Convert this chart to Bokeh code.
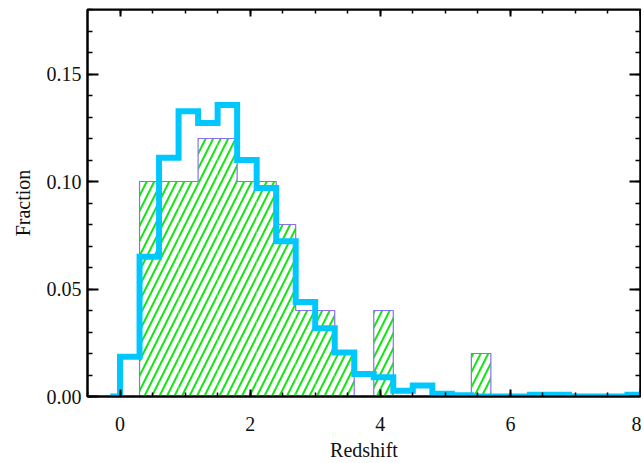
from bokeh.plotting import figure
from bokeh.models import Range1d, FixedTicker, LinearAxis, NumeralTickFormatter, CustomJSTickFormatter
from bokeh.embed import file_html
from bokeh.resources import INLINE

# ---- data -------------------------------------------------------------
# hatched histogram (bin edges of width 0.3)
green_left = [0.0, 0.3, 0.6, 0.9, 1.2, 1.5, 1.8, 2.1, 2.4, 2.7,
              3.0, 3.3, 3.6, 3.9, 4.2, 4.5, 4.8, 5.1, 5.4, 5.7]
green_right = [0.3, 0.6, 0.9, 1.2, 1.5, 1.8, 2.1, 2.4, 2.7, 3.0,
               3.3, 3.6, 3.9, 4.2, 4.5, 4.8, 5.1, 5.4, 5.7, 6.0]
green_frac = [0.00, 0.10, 0.10, 0.10, 0.12, 0.12, 0.10, 0.10, 0.08, 0.04,
              0.04, 0.02, 0.00, 0.04, 0.00, 0.00, 0.00, 0.00, 0.02, 0.00]

# thick cyan step histogram (bin centres)
cyan_z = [-0.15, 0.15, 0.45, 0.75, 1.05, 1.35, 1.65, 1.95, 2.25, 2.55,
          2.85, 3.15, 3.45, 3.75, 4.05, 4.35, 4.65, 4.95, 5.25, 5.55,
          5.85, 6.15, 6.45, 6.75, 7.05, 7.35, 7.65, 7.95, 8.25]
cyan_frac = [0.0, 0.0185, 0.065, 0.111, 0.1327, 0.1272, 0.1356, 0.110, 0.097, 0.0722,
             0.044, 0.0317, 0.0205, 0.0105, 0.009, 0.0027, 0.0051, 0.0013, 0.0006, 0.0,
             0.0, 0.0, 0.0008, 0.0008, 0.0, 0.0, 0.0, 0.0008, 0.0008]

x_major = [0, 2, 4, 6, 8]
x_minor = [-0.5, 0, 0.5, 1, 1.5, 2, 2.5, 3, 3.5, 4, 4.5, 5, 5.5, 6, 6.5, 7, 7.5, 8]
y_major = [0.0, 0.05, 0.10, 0.15]
y_minor = [0.0, 0.01, 0.02, 0.03, 0.04, 0.05, 0.06, 0.07, 0.08, 0.09,
           0.10, 0.11, 0.12, 0.13, 0.14, 0.15, 0.16, 0.17, 0.18]

X_START, X_END = -0.5, 8.0
Y_START, Y_END = 0.0, 0.18

FONT = "Liberation Serif"

# ---- figure -----------------------------------------------------------
p = figure(width=641, height=463,
           x_range=Range1d(X_START, X_END), y_range=Range1d(Y_START, Y_END),
           output_backend="svg", toolbar_location=None,
           min_border_left=87, min_border_top=9, min_border_right=1, min_border_bottom=40,
           x_axis_label="Redshift", y_axis_label="Fraction")
p.grid.visible = False
p.outline_line_color = "black"
p.outline_line_width = 2
p.background_fill_color = "white"
p.border_fill_color = "white"

# hatched histogram fill
p.quad(left=green_left, right=green_right, bottom=0, top=green_frac,
       fill_color=None, line_color=None,
       hatch_pattern="/", hatch_color="#14e614", hatch_weight=2, hatch_scale=15)

# outline of hatched histogram (built from the bin data)
ox, oy = [], []
first = next(i for i, v in enumerate(green_frac) if v > 0)
last = max(i for i, v in enumerate(green_frac) if v > 0)
ox.append(green_left[first]); oy.append(0.0)
for i in range(first, last + 1):
    ox += [green_left[i], green_right[i]]
    oy += [green_frac[i], green_frac[i]]
ox.append(green_right[last]); oy.append(0.0)
p.line(ox, oy, line_color="#8a70f0", line_width=1.2)
p.line([green_left[first], green_right[last]], [0, 0], line_color="#5a40c0", line_width=1.2)

# thick cyan step line
p.step(cyan_z, cyan_frac, mode="center", line_color="#00c8ff", line_width=6,
       line_join="miter")

xt = FixedTicker(ticks=x_major, minor_ticks=x_minor)
yt = FixedTicker(ticks=y_major, minor_ticks=y_minor)
blank = CustomJSTickFormatter(code="return ''")


def style(ax, major_in, minor_in, labels=True):
    ax.axis_line_color = "black"
    ax.axis_line_width = 2
    ax.major_tick_in = major_in
    ax.major_tick_out = 0
    ax.minor_tick_in = minor_in
    ax.minor_tick_out = 0
    ax.major_tick_line_width = 2
    ax.minor_tick_line_width = 1.5
    ax.major_tick_line_color = "black"
    ax.minor_tick_line_color = "black"
    ax.major_label_text_font = FONT
    ax.axis_label_text_font = FONT
    ax.axis_label_text_font_style = "normal"
    ax.major_label_text_color = "#111111"
    ax.axis_label_text_color = "#111111"
    ax.major_label_text_font_size = "20px"
    ax.axis_label_text_font_size = "20px"
    if not labels:
        ax.formatter = blank
        ax.major_label_standoff = 0
        ax.axis_label_standoff = 0
        ax.axis_label = None


xa = p.xaxis[0]
xa.ticker = xt
style(xa, 7, 4)
xa.major_label_standoff = 20
xa.axis_label_standoff = 5

ya = p.yaxis[0]
ya.ticker = yt
ya.formatter = NumeralTickFormatter(format="0.00")
style(ya, 11, 5)
ya.major_label_standoff = 6
ya.axis_label_standoff = 10

# mirrored tick axes drawn on the frame edges (take no layout space)
top = LinearAxis(ticker=xt, fixed_location=Y_END)
style(top, 7, 4, labels=False)
p.add_layout(top, "above")

right = LinearAxis(ticker=yt, fixed_location=X_END)
style(right, 11, 5, labels=False)
p.add_layout(right, "right")

open("out.html", "w").write(file_html(p, INLINE))
